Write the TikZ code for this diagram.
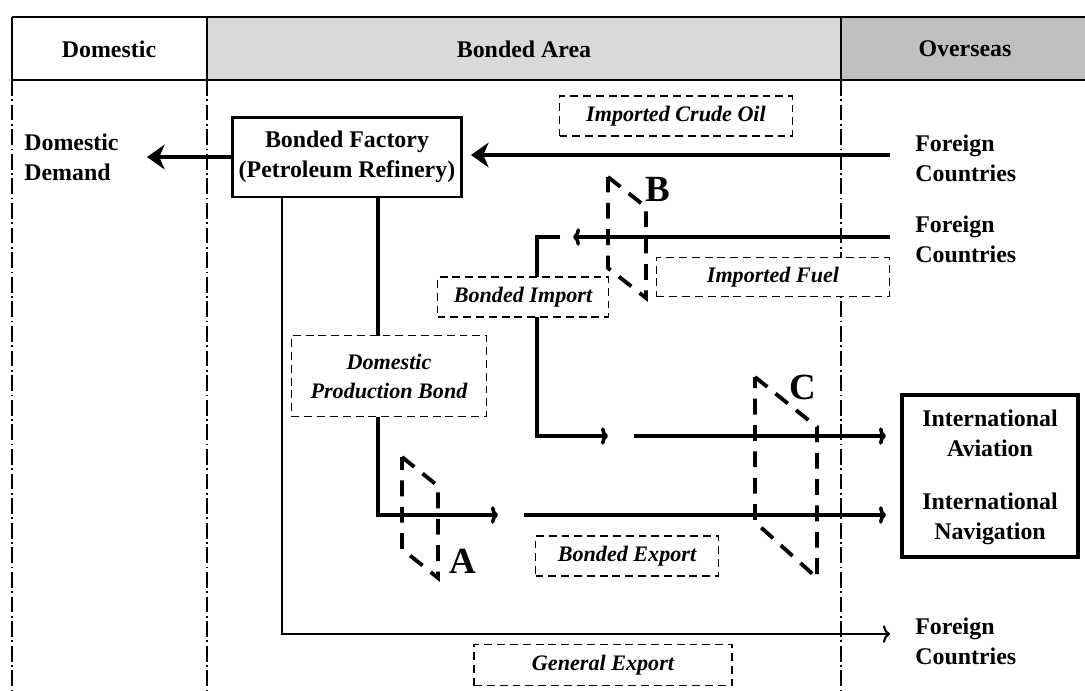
\documentclass[tikz,border=0pt]{standalone}
\usepackage{fontspec}
\setmainfont{Liberation Serif}
\usetikzlibrary{arrows.meta,positioning}

\begin{document}
\begin{tikzpicture}[x=0.02cm,y=-0.02cm,
  font=\bfseries\fontsize{13.6}{17}\selectfont,
  txt/.style={align=center,inner sep=0pt},
  solidbox/.style={draw,line width=1.7pt,fill=white,align=center,inner sep=0pt},
  tag/.style={draw,fill=white,line width=0.8pt,dash pattern=on 4.5pt off 2.8pt,
    align=center,inner sep=0pt,font=\bfseries\itshape\fontsize{12.6}{16.5}\selectfont},
  zoneline/.style={line width=0.6pt,dash pattern=on 9pt off 2pt on 1pt off 2pt},
  heavy/.style={line width=2.8pt,-{Stealth[length=10pt,width=14pt,inset=3pt]}},
  flow/.style={line width=2pt},
  flowto/.style={flow,-{To[length=4pt,width=10pt]}},
  thinflow/.style={line width=1.2pt,-{To[length=4pt,width=10pt]}},
  gate/.style={line width=2.2pt,dash pattern=on 9pt off 6pt},
  gatename/.style={inner sep=0pt,font=\bfseries\fontsize{21}{24}\selectfont}]
 \useasboundingbox (0,0) rectangle (1085,690);

 % header
 \fill[black!15] (207,17) rectangle (841,80);
 \fill[black!25] (841,17) rectangle (1085,80);
 \draw[line width=1.2pt] (12,17) -- (1085,17) (12,80) -- (1085,80)
   (12,17) -- (12,80) (207,17) -- (207,80) (841,17) -- (841,80);
 \node[txt] (hdom) at (109,49) {Domestic};
 \node[txt] (hbond) at (524,49) {Bonded Area};
 \node[txt] (hover) at (965,49) {Overseas};
 \draw[zoneline] (12,80) -- (12,690) (207,80) -- (207,690) (841,80) -- (841,690);

 % fixed points
 \coordinate (fc1) at (890,155);
 \coordinate (fc2) at (890,237);
 \coordinate (fc3) at (890,634);
 \coordinate (demtip) at (147,157);
 \coordinate (fueltip) at (573,237);
 \coordinate (impstub) at (560,237);
 \coordinate (impbend) at (537,436);
 \coordinate (avigap) at (608,436);
 \coordinate (avistart) at (634,436);
 \coordinate (navbend) at (378,515);
 \coordinate (navgap) at (498,515);
 \coordinate (navstart) at (524,515);
 \coordinate (genbend) at (282,634);

 \node[solidbox,minimum width=4.58cm,minimum height=1.6cm] (factory) at (347,157)
   {Bonded Factory\\(Petroleum Refinery)};
 \node[txt,anchor=west,align=left] (demand) at (24,157) {Domestic\\Demand};
 \node[txt,anchor=west,align=left] (foreign1) at (915,158) {Foreign\\Countries};
 \node[txt,anchor=west,align=left] (foreign2) at (915,239) {Foreign\\Countries};
 \node[txt,anchor=west,align=left] (foreign3) at (915,641) {Foreign\\Countries};
 \node[solidbox,line width=2.3pt,minimum width=3.52cm,minimum height=3.24cm] (intl) at (990,476) {};
 \node[txt] (avi) at (990,433) {International\\Aviation};
 \node[txt] (nav) at (990,519) {International\\Navigation};

 % flows
 \draw[heavy,shorten >=0.16cm] (fc1) -- (factory.east |- fc1);
 \draw[heavy] (factory.west |- demtip) -- (demtip);
 \draw[flowto] (fc2) -- (fueltip);
 \draw[flowto] (impstub) -| (impbend) -- (avigap);
 \draw[flowto,shorten >=0.28cm] (avistart) -- (intl.west |- avistart);
 \draw[flow] (factory.south -| navbend) -- (navbend |- 0,336);
 \draw[flowto] (navbend |- 0,417) -- (navbend) -- (navgap);
 \draw[flowto,shorten >=0.28cm] (navstart) -- (intl.west |- navstart);
 \draw[thinflow] (factory.south -| genbend) -- (genbend) -- (fc3);

 % customs gates
 \draw[gate] (402,457) -- (438,486) -- (438,578) -- (402,549) -- cycle;
 \draw[gate] (608,177) -- (646,207) -- (646,298) -- (608,268) -- cycle;
 \draw[gate] (755,377) -- (817,427) -- (817,578) -- (755,522) -- cycle;
 \node[gatename] (gA) at (463,561) {A};
 \node[gatename] (gB) at (658,189) {B};
 \node[gatename] (gC) at (803,387) {C};

 % procedure tags
 \node[tag,minimum width=4.66cm,minimum height=0.8cm] (crude) at (676,116) {Imported Crude Oil};
 \node[tag,minimum width=3.42cm,minimum height=0.8cm] (import) at (523,297) {Bonded Import};
 \node[tag,minimum width=4.66cm,minimum height=0.78cm] (fuel) at (773,277) {Imported Fuel};
 \node[tag,minimum width=3.9cm,minimum height=1.62cm] (dpb) at (389,376) {Domestic\\Production Bond};
 \node[tag,minimum width=3.66cm,minimum height=0.8cm] (export) at (627,556) {Bonded Export};
 \node[tag,minimum width=5.16cm,minimum height=0.82cm] (general) at (603,665) {General Export};
\end{tikzpicture}
\end{document}
